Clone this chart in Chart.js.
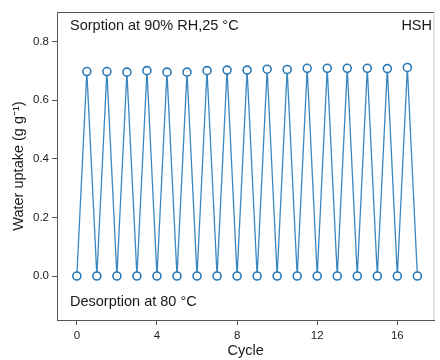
<!DOCTYPE html>
<html lang="en">
<head>
    <meta charset="UTF-8">
    <title>Water uptake cycling</title>
    <script src="https://cdn.jsdelivr.net/npm/chart.js"></script>
    <style>
        body {
            margin: 0;
            background: #ffffff;
            font-family: 'Liberation Sans', Arial, sans-serif;
        }
        #chart-container {
            width: 440px;
            height: 360px;
        }
    </style>
</head>
<body>
    <div id="chart-container">
        <canvas id="uptakeChart" width="440" height="360"></canvas>
    </div>

    <script>
        // Cycle positions: desorption at whole cycles, sorption at half cycles
        const cycles = [0, 0.5, 1, 1.5, 2, 2.5, 3, 3.5, 4, 4.5, 5, 5.5, 6, 6.5, 7, 7.5, 8, 8.5,
                        9, 9.5, 10, 10.5, 11, 11.5, 12, 12.5, 13, 13.5, 14, 14.5, 15, 15.5, 16, 16.5, 17];
        // Water uptake (g g-1)
        const uptake = [0, 0.697, 0, 0.697, 0, 0.695, 0, 0.700, 0, 0.695, 0, 0.695, 0, 0.700, 0, 0.702, 0, 0.702,
                        0, 0.705, 0, 0.704, 0, 0.708, 0, 0.708, 0, 0.708, 0, 0.708, 0, 0.707, 0, 0.711, 0];
        const xTicks = [0, 4, 8, 12, 16];
        const yTicks = [0.0, 0.2, 0.4, 0.6, 0.8];

        const lineColor = '#3a88c2';
        const markerColor = '#2a7ab8';
        const axisColor = '#555555';
        const textFont = "'Liberation Sans', Arial, sans-serif";

        // Frame and the three notes inside the plot
        const framePlugin = {
            id: 'frame',
            afterDraw(chart) {
                const { ctx, chartArea } = chart;
                ctx.save();
                ctx.strokeStyle = axisColor;
                ctx.lineWidth = 1;
                ctx.beginPath();
                ctx.moveTo(chartArea.left, chartArea.top + 0.5);
                ctx.lineTo(chartArea.right, chartArea.top + 0.5);
                ctx.stroke();
                ctx.strokeStyle = '#cfcfcf';
                ctx.beginPath();
                ctx.moveTo(chartArea.right - 0.5, chartArea.top);
                ctx.lineTo(chartArea.right - 0.5, chartArea.bottom);
                ctx.stroke();

                ctx.fillStyle = '#1a1a1a';
                ctx.font = '14.5px ' + textFont;
                ctx.textBaseline = 'middle';
                ctx.textAlign = 'left';
                ctx.fillText('Sorption at 90% RH,25 °C', 70, 26);
                ctx.fillText('Desorption at 80 °C', 70, 302);
                ctx.textAlign = 'right';
                ctx.fillText('HSH', 432, 26);
                ctx.restore();
            }
        };

        const data = {
            datasets: [{
                label: 'HSH',
                data: cycles.map((c, i) => ({ x: c, y: uptake[i] })),
                borderColor: lineColor,
                borderWidth: 1.3,
                pointRadius: 4,
                pointBorderWidth: 1.6,
                pointBorderColor: markerColor,
                pointBackgroundColor: '#ffffff',
                tension: 0
            }]
        };

        const config = {
            type: 'scatter',
            data: data,
            options: {
                responsive: false,
                animation: false,
                showLine: true,
                layout: {
                    padding: { top: 12, right: 3, left: 0, bottom: 0 }
                },
                plugins: {
                    legend: { display: false },
                    tooltip: { enabled: false }
                },
                scales: {
                    x: {
                        type: 'linear',
                        min: -0.99,
                        max: 17.85,
                        afterBuildTicks: scale => { scale.ticks = xTicks.map(v => ({ value: v })); },
                        afterFit: scale => { scale.height = 40; },
                        border: { color: axisColor, width: 1 },
                        grid: { drawOnChartArea: false, tickLength: 5, tickColor: axisColor },
                        ticks: {
                            color: '#222222',
                            font: { family: textFont, size: 11.5 },
                            padding: 4,
                            maxRotation: 0
                        },
                        title: {
                            display: true,
                            text: 'Cycle',
                            color: '#1a1a1a',
                            font: { family: textFont, size: 14.5 },
                            padding: { top: 2, bottom: 0 }
                        }
                    },
                    y: {
                        type: 'linear',
                        min: -0.15,
                        max: 0.9,
                        afterBuildTicks: scale => { scale.ticks = yTicks.map(v => ({ value: v })); },
                        afterFit: scale => { scale.width = 57; },
                        border: { color: axisColor, width: 1 },
                        grid: { drawOnChartArea: false, tickLength: 5, tickColor: axisColor },
                        ticks: {
                            color: '#222222',
                            font: { family: textFont, size: 11.5 },
                            padding: 3,
                            callback: value => value.toFixed(1)
                        },
                        title: {
                            display: true,
                            text: 'Water uptake (g g⁻¹)',
                            color: '#1a1a1a',
                            font: { family: textFont, size: 14.5 },
                            padding: { top: 10, bottom: 0 }
                        }
                    }
                }
            },
            plugins: [framePlugin]
        };

        new Chart(document.getElementById('uptakeChart'), config);
    </script>
</body>
</html>
